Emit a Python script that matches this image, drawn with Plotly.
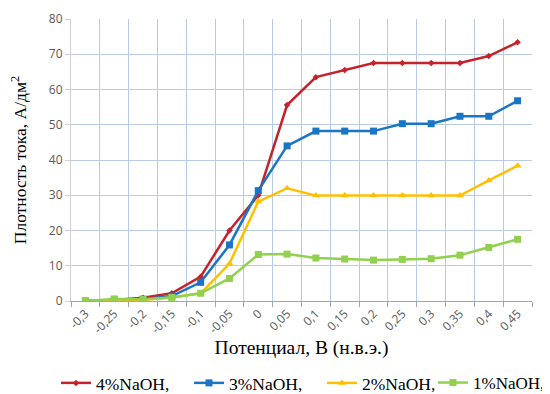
import plotly.graph_objects as go

categories = ["-0,3", "-0,25", "-0,2", "-0,15", "-0,1", "-0,05", "0", "0,05",
              "0,1", "0,15", "0,2", "0,25", "0,3", "0,35", "0,4", "0,45"]

naoh4 = [0.0, 0.3, 0.9, 2.2, 6.9, 20.0, 30.0, 55.6, 63.5, 65.5, 67.5, 67.5, 67.5, 67.5, 69.5, 73.4]
naoh3 = [0.0, 0.3, 0.5, 1.4, 5.3, 15.9, 31.3, 44.0, 48.2, 48.2, 48.2, 50.3, 50.3, 52.4, 52.4, 56.8]
naoh2 = [0.0, 0.2, 0.3, 1.0, 2.2, 10.6, 28.2, 32.0, 29.9, 29.9, 29.9, 29.9, 29.9, 29.9, 34.2, 38.4]
naoh1 = [0.0, 0.6, 0.5, 1.0, 2.2, 6.4, 13.2, 13.3, 12.2, 11.9, 11.6, 11.8, 12.0, 13.0, 15.2, 17.5]

series = [
    ("4%NaOH,", naoh4, "#C4232B", "diamond", 5, "legend"),
    ("3%NaOH,", naoh3, "#1A75C4", "square", 7, "legend"),
    ("2%NaOH,", naoh2, "#FFC000", "triangle-up", 7, "legend"),
    ("1%NaOH,", naoh1, "#92D050", "square", 7, "legend2"),
]

SERIF = "Liberation Serif, Times New Roman, serif"

fig = go.Figure()
for name, vals, color, sym, size, leg in series:
    fig.add_trace(go.Scatter(
        x=categories, y=vals, name=name, mode="lines+markers",
        line=dict(color=color, width=2.5),
        marker=dict(symbol=sym, size=size, color=color),
        legend=leg,
    ))

W, H = 542, 386  # page body has an 8px margin

legend_common = dict(orientation="h", xref="container", yref="container",
                     y=11 / H, yanchor="middle",
                     itemwidth=30, tracegroupgap=0, bgcolor="rgba(0,0,0,0)")

grid = "#B9CBE8"
fig.update_layout(
    width=W, height=H,
    margin=dict(l=63, r=18, t=11, b=93, autoexpand=False),
    paper_bgcolor="white", plot_bgcolor="white",
    font=dict(family=SERIF, color="black"),
    legend=dict(x=48 / W, xanchor="left", entrywidth=88, entrywidthmode="pixels",
                font=dict(family=SERIF, size=17.5, color="black"), **legend_common),
    legend2=dict(x=1, xanchor="right",
                 font=dict(family=SERIF, size=17, color="black"), **legend_common),
    xaxis=dict(
        type="category", tickson="boundaries", range=[-0.5, 15.5],
        showgrid=True, gridcolor=grid, gridwidth=1,
        showline=True, linecolor="#A6A6A6", linewidth=1,
        ticks="outside", ticklen=5, tickcolor="#A6A6A6",
        tickangle=-45,
        tickfont=dict(family="Open Sans", size=12, color="#595959"),
        title=dict(text="Потенциал, В (н.в.э.)", standoff=3,
                   font=dict(family=SERIF, size=19.5, color="black")),
        mirror=False, zeroline=False, automargin=False,
    ),
    yaxis=dict(
        range=[0, 80], dtick=10, tick0=0,
        showgrid=True, gridcolor=grid, gridwidth=1,
        showline=True, linecolor="#D0D0D0", linewidth=1,
        ticks="outside", ticklen=5, tickcolor="#D0D0D0",
        tickfont=dict(family="Open Sans", size=12, color="#595959"),
        title=dict(text="Плотность тока, А/дм<sup>2</sup>", standoff=21,
                   font=dict(family=SERIF, size=17.5, color="black")),
        zeroline=False, automargin=False,
    ),
)

fig.write_html("out.html")
